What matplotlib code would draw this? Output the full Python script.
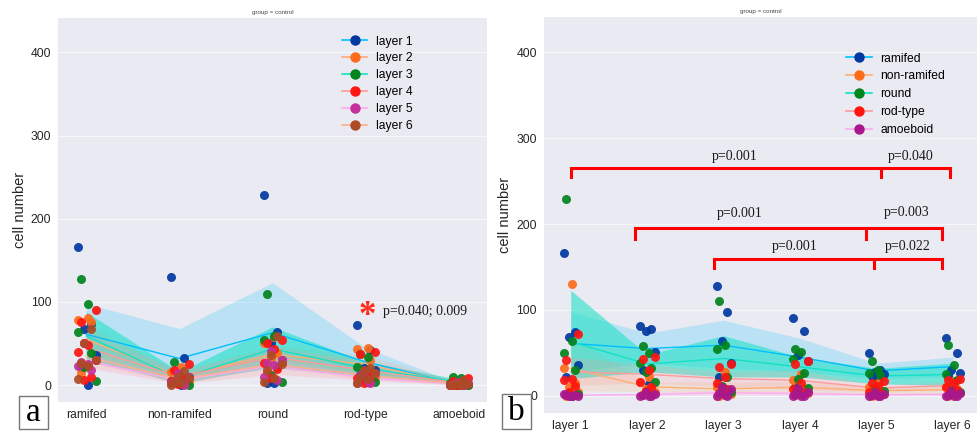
import numpy as np
import matplotlib.pyplot as plt
from matplotlib.lines import Line2D
from matplotlib.patches import Rectangle

# categories
cell_types = ['ramifed', 'non-ramifed', 'round', 'rod-type', 'amoeboid']
layers = ['layer 1', 'layer 2', 'layer 3', 'layer 4', 'layer 5', 'layer 6']

# cell counts per layer (rows) for each cell type, one value per animal
ramifed = [[166, 74, 68, 36, 22, 0],
           [81, 78, 76, 51, 30, 14],
           [128, 97, 64, 38, 22, 5],
           [90, 76, 48, 40, 10, 6],
           [50, 30, 28, 25, 23, 18],
           [67, 50, 30, 27, 23, 7]]
non_ramifed = [[130, 32, 15, 10, 5, 0],
               [22, 16, 10, 8, 5, 2],
               [28, 10, 5, 3, 2, 0],
               [25, 18, 8, 5, 3, 1],
               [15, 10, 5, 4, 2, 0],
               [17, 10, 8, 4, 3, 0]]
round_cells = [[229, 64, 50, 30, 3, 2],
               [58, 50, 38, 32, 28, 16],
               [110, 59, 54, 22, 12, 4],
               [54, 51, 43, 26, 19, 9],
               [41, 30, 27, 24, 10, 6],
               [59, 36, 25, 18, 8, 4]]
rod_type = [[72, 42, 20, 18, 12, 4],
            [45, 43, 30, 16, 10, 6],
            [37, 34, 22, 15, 8, 4],
            [40, 37, 15, 8, 5, 3],
            [17, 15, 12, 5, 3, 2],
            [20, 18, 15, 10, 7, 2]]
amoeboid = [[0, 0, 1, 0, 2, 1],
            [5, 2, 1, 0, 0, 0],
            [10, 8, 3, 1, 0, 0],
            [8, 5, 2, 0, 0, 0],
            [4, 2, 1, 0, 0, 0],
            [6, 3, 1, 0, 0, 0]]

# 95% CI band, per cell type across layers 1-6
ci_low = [[28, 38, 32, 28, 20, 22],
          [6, 5, 2, 3, 2, 2],
          [20, 28, 22, 22, 14, 12],
          [12, 15, 11, 7, 5, 7],
          [0, 0, 1, 0, 0, 0]]
ci_high = [[98, 73, 88, 67, 38, 45],
           [68, 16, 16, 17, 10, 11],
           [123, 48, 70, 45, 32, 38],
           [45, 36, 28, 30, 13, 16],
           [1.5, 3.5, 7, 5, 3, 4]]

# p-values for panel b brackets
p_rows = [('p=0.001', 'p=0.040'), ('p=0.001', 'p=0.003'), ('p=0.001', 'p=0.022')]
p_a = 'p=0.040; 0.009'

counts = np.array([ramifed, non_ramifed, round_cells, rod_type, amoeboid], dtype=float)  # type, layer, animal
means = counts.mean(axis=2)
lo = np.array(ci_low)
hi = np.array(ci_high)

# colours
bg = '#eaeaf2'
layer_dot = ['#0038a0', '#ff6a1a', '#00841c', '#ff1410', '#c4309a', '#ae4a24']
layer_line = ['#00bfff', '#ffab73', '#12e2c4', '#ff9a9a', '#ffaaf0', '#ffb08a']
type_dot = ['#0038a0', '#ff6a1a', '#00841c', '#ff1410', '#a8188c']
type_line = ['#00bfff', '#ffb070', '#12e2c4', '#ff9a9a', '#ffaaf0']
band_alpha_a = [0.2, 0.2, 0.55, 0.2, 0.2, 0.2]
band_alpha_b = [0.2, 0.2, 0.55, 0.2, 0.2]

plt.rcParams['font.family'] = ['Liberation Sans', 'DejaVu Sans']
serif = ['Liberation Serif', 'DejaVu Serif']

jit = np.array([-0.09, 0.05, -0.02, 0.10, -0.06, 0.02])

fig = plt.figure(figsize=(9.78, 4.32), dpi=100)
ax_a = fig.add_axes([0.0596, 0.0701, 0.4381, 0.8875])
ax_b = fig.add_axes([0.5562, 0.044, 0.4438, 0.9167])


def style_axes(ax, labels):
    ax.set_facecolor(bg)
    for s in ax.spines.values():
        s.set_visible(False)
    ax.set_ylim(-20, 441)
    ax.set_yticks([0, 100, 200, 300, 400])
    ax.grid(axis='y', color='#f7f7fa', linewidth=0.8)
    ax.set_axisbelow(True)
    ax.tick_params(length=0, labelsize=8.7, colors='#262626', pad=5)
    ax.set_xticks(range(len(labels)))
    ax.set_xticklabels(labels)
    ax.set_ylabel('cell number', fontsize=10.5, color='#262626', labelpad=3)
    ax.set_title('group = control', fontsize=4.5, color='#444444', pad=3)


# panel a: cell type on x, layers as hue
xa = np.arange(len(cell_types))
for li in range(len(layers)):
    ax_a.fill_between(xa, lo[:, li], hi[:, li], color=layer_line[li],
                      alpha=band_alpha_a[li], linewidth=0)
    ax_a.plot(xa, means[:, li], color=layer_line[li], linewidth=1.0)
for li in range(len(layers)):
    off = np.roll(jit, li)
    for ti in range(len(cell_types)):
        ax_a.scatter(ti + off, counts[ti, li], s=42, color=layer_dot[li],
                     alpha=0.92, linewidths=0, zorder=3)
style_axes(ax_a, cell_types)
ax_a.set_xlim(-0.3, 4.3)
ax_a.text(3.02, 82, '*', color='#ff2a1a', fontsize=25, fontweight='bold',
          ha='center', va='center', family=serif)
ax_a.text(3.19, 89, p_a, fontsize=10, ha='left', va='center', family=serif,
          color='#1a1a1a')

handles_a = [Line2D([], [], color=layer_line[i], marker='o', markersize=6.5,
                    markerfacecolor=layer_dot[i], markeredgecolor=layer_dot[i],
                    linewidth=1.2) for i in range(len(layers))]
ax_a.legend(handles_a, layers, loc='upper left', bbox_to_anchor=(0.662, 0.955),
            frameon=False, fontsize=8.7, handlelength=2.1, handletextpad=0.7,
            labelspacing=0.4, borderpad=0, borderaxespad=0)

# panel b: layers on x, cell types as hue
xb = np.arange(len(layers))
for ti in range(len(cell_types)):
    ax_b.fill_between(xb, lo[ti], hi[ti], color=type_line[ti],
                      alpha=band_alpha_b[ti], linewidth=0)
    ax_b.plot(xb, means[ti], color=type_line[ti], linewidth=1.0)
for ti in range(len(cell_types)):
    off = np.roll(jit, ti)
    for li in range(len(layers)):
        ax_b.scatter(li + off, counts[ti, li], s=42, color=type_dot[ti],
                     alpha=0.92, linewidths=0, zorder=3)
style_axes(ax_b, layers)
ax_b.set_xlim(-0.35, 5.33)

handles_b = [Line2D([], [], color=type_line[i], marker='o', markersize=6.5,
                    markerfacecolor=type_dot[i], markeredgecolor=type_dot[i],
                    linewidth=1.2) for i in range(len(cell_types))]
ax_b.legend(handles_b, cell_types, loc='upper left', bbox_to_anchor=(0.697, 0.91),
            frameon=False, fontsize=8.7, handlelength=2.1, handletextpad=0.7,
            labelspacing=0.48, borderpad=0, borderaxespad=0)

# significance brackets: (left x, middle x, right x, bar y, drop y)
brackets = [(0.0, 4.06, 4.96, 265, 255),
            (0.84, 3.86, 4.86, 195, 183),
            (1.88, 3.97, 4.86, 159, 149)]
label_pos = [((2.15, 279), (4.45, 279)),
             ((2.21, 212), (4.40, 213)),
             ((2.93, 174), (4.41, 174))]
for (x0, xm, x1, yb, yd), (t1, t2), (pos1, pos2) in zip(brackets, p_rows, label_pos):
    ax_b.plot([x0, x0, x1, x1], [yd, yb, yb, yd], color='#ff0000', linewidth=2.2,
              solid_joinstyle='miter', zorder=4)
    ax_b.plot([xm, xm], [yb, yd], color='#ff0000', linewidth=2.2, zorder=4)
    ax_b.text(pos1[0], pos1[1], t1, fontsize=10, ha='center', va='center',
              family=serif, color='#1a1a1a')
    ax_b.text(pos2[0], pos2[1], t2, fontsize=10, ha='center', va='center',
              family=serif, color='#1a1a1a')

# panel letters
for letter, (x0, y0, x1, y1) in [('a', (19, 396, 48, 429)), ('b', (502, 394, 531, 429))]:
    fig.patches.append(Rectangle((x0 / 978, 1 - y1 / 432), (x1 - x0) / 978, (y1 - y0) / 432,
                                 transform=fig.transFigure, facecolor='white',
                                 edgecolor='#777777', linewidth=1.0))
    fig.text((x0 + x1) / 2 / 978, 1 - (y0 + y1) / 2 / 432, letter, fontsize=24,
             ha='center', va='center', family=serif, color='black')

fig.savefig('out.png', dpi=100, facecolor='white')
plt.close(fig)
